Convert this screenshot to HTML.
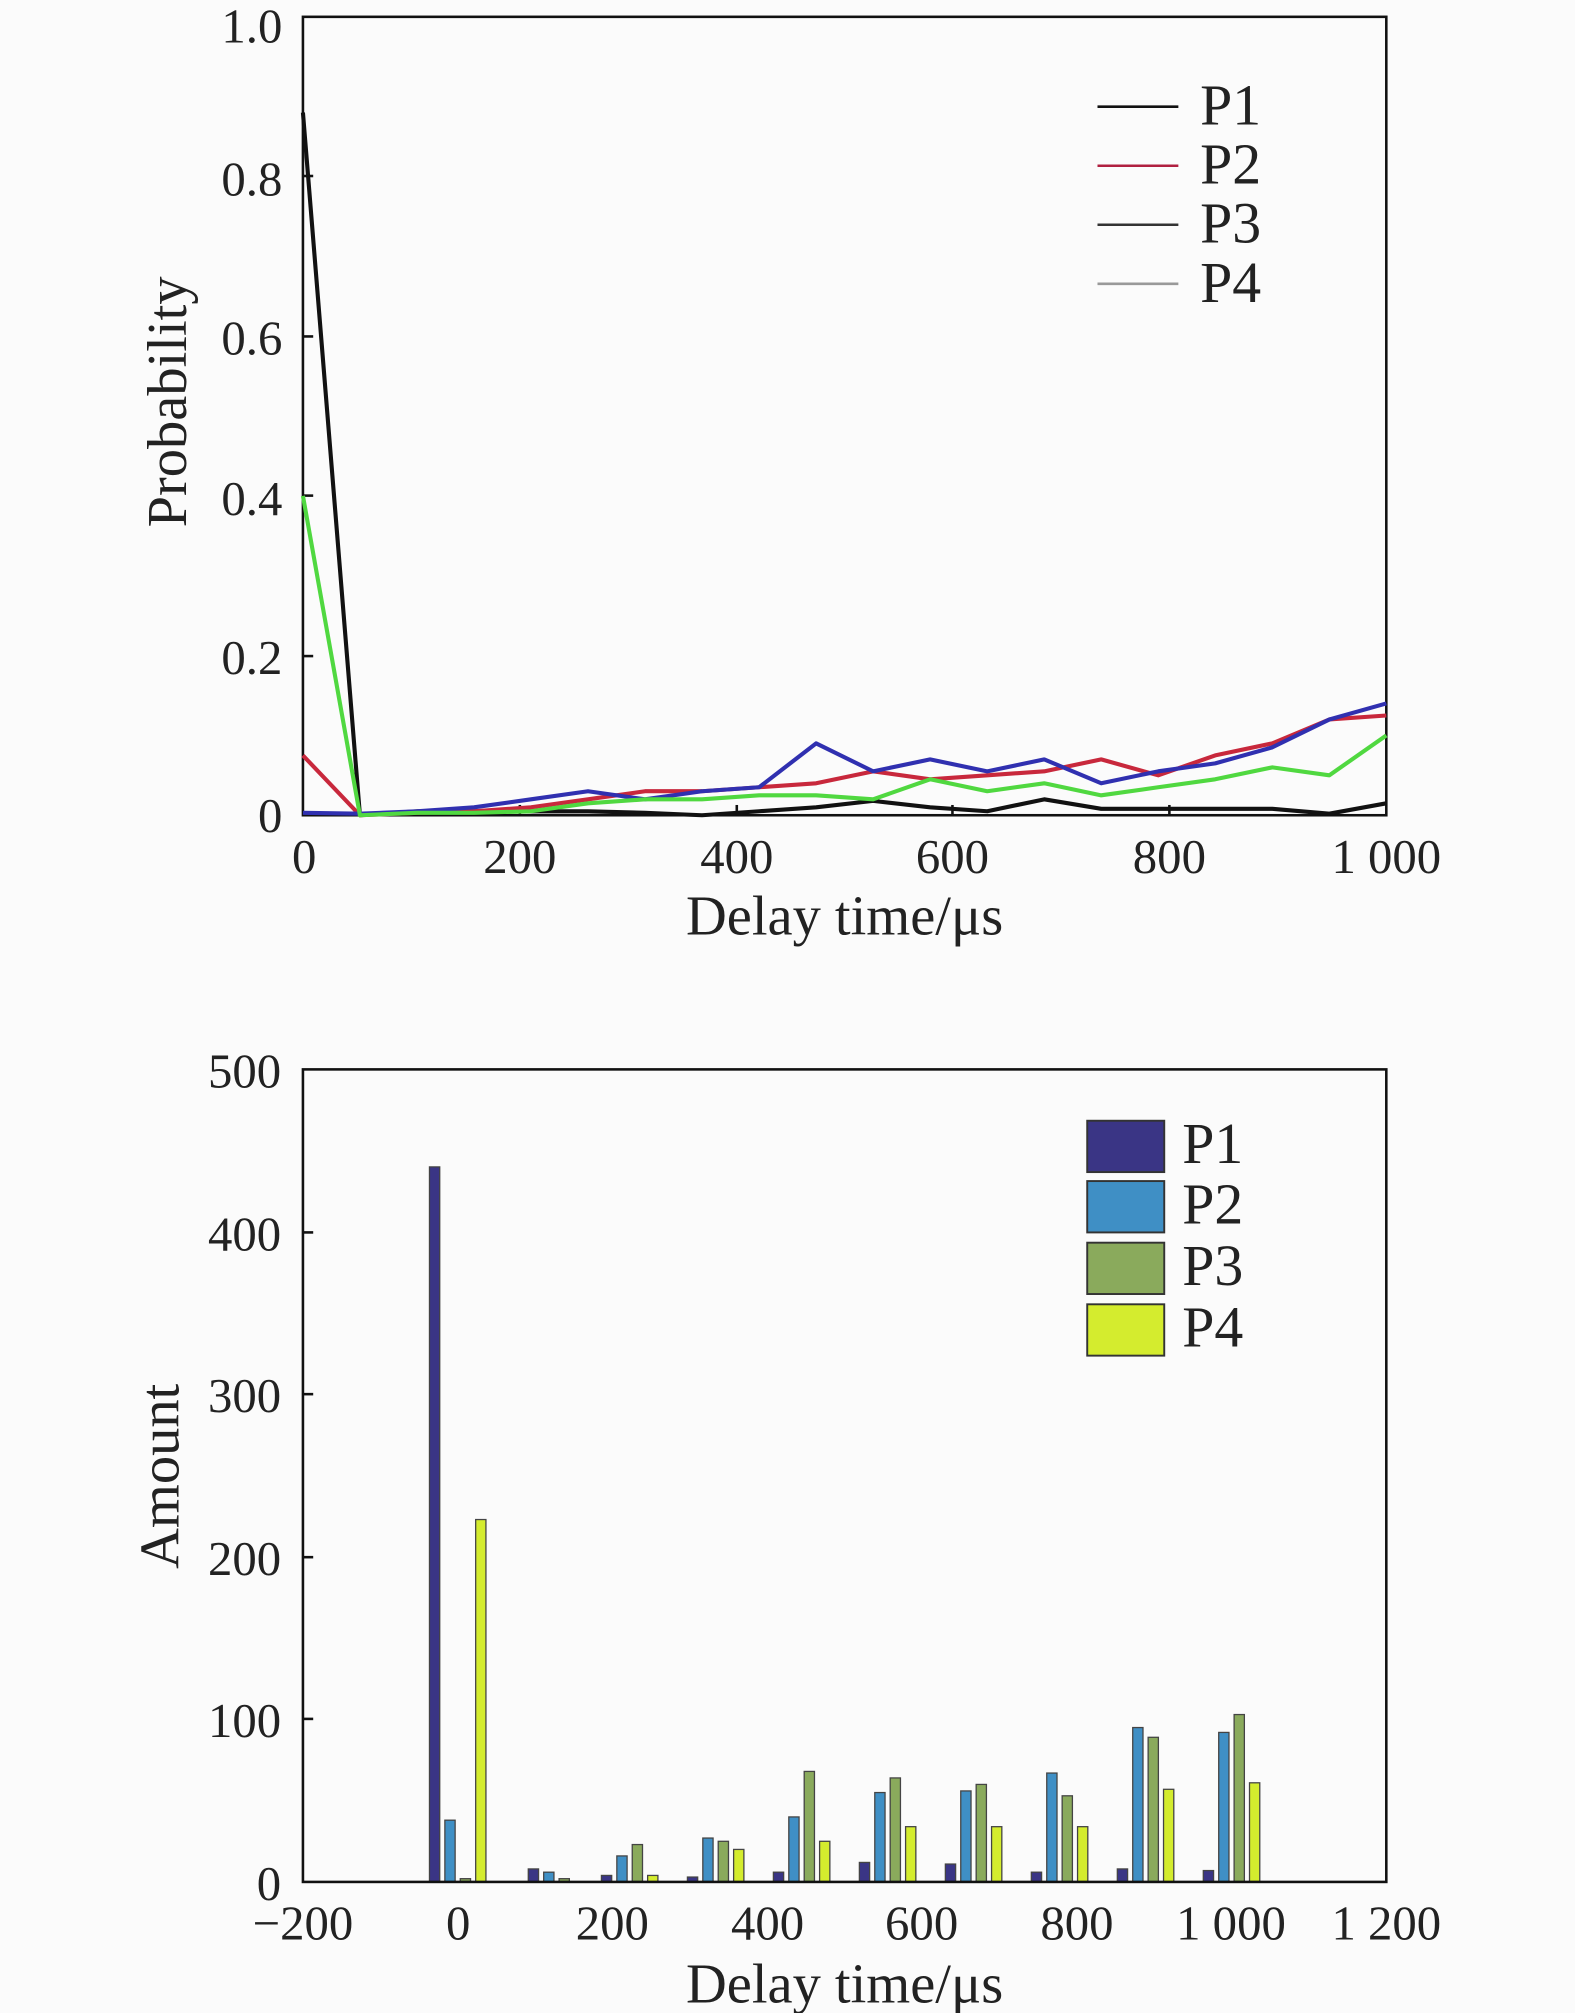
<!DOCTYPE html>
<html><head><meta charset="utf-8"><style>
html,body{margin:0;padding:0;background:#fbfbfb;}
svg{display:block;}
text{font-family:"Liberation Serif",serif;fill:#222;}
</style></head><body>
<svg width="1575" height="2013" viewBox="0 0 1227 1568" xmlns="http://www.w3.org/2000/svg">
<rect width="1227" height="1568" fill="#fbfbfb"/>
<rect x="236" y="13" width="844" height="622" fill="none" stroke="#111" stroke-width="2"/>
<g font-size="38" text-anchor="end">
<text x="220" y="648">0</text><text x="220" y="525">0.2</text><text x="220" y="401">0.4</text><text x="220" y="276">0.6</text><text x="220" y="152">0.8</text><text x="220" y="33">1.0</text>
</g>
<g stroke="#111" stroke-width="2">
<line x1="236" y1="511" x2="244" y2="511"/><line x1="236" y1="386" x2="244" y2="386"/><line x1="236" y1="262" x2="244" y2="262"/><line x1="236" y1="137" x2="244" y2="137"/>
<line x1="405" y1="635" x2="405" y2="627"/><line x1="574" y1="635" x2="574" y2="627"/><line x1="742" y1="635" x2="742" y2="627"/><line x1="911" y1="635" x2="911" y2="627"/>
</g>
<g font-size="38" text-anchor="middle">
<text x="237" y="680">0</text><text x="405" y="680">200</text><text x="574" y="680">400</text><text x="742" y="680">600</text><text x="911" y="680">800</text><text x="1080" y="680">1 000</text>
</g>
<g font-size="44" text-anchor="middle">
<text x="658" y="728">Delay time/μs</text>
<text transform="translate(145,313) rotate(-90)">Probability</text>
</g>
<g fill="none" stroke-width="3.2" stroke-linejoin="round" id="lines"></g>
<g stroke-width="2">
<line x1="855" y1="83" x2="918" y2="83" stroke="#111"/>
<line x1="855" y1="129" x2="918" y2="129" stroke="#b02040"/>
<line x1="855" y1="175" x2="918" y2="175" stroke="#333"/>
<line x1="855" y1="221" x2="918" y2="221" stroke="#999"/>
</g>
<g font-size="45">
<text x="935" y="97">P1</text><text x="935" y="143">P2</text><text x="935" y="189">P3</text><text x="935" y="235">P4</text>
</g>
<g id="bars"></g>
<rect x="236" y="833" width="844" height="633" fill="none" stroke="#111" stroke-width="2"/>
<g stroke="#111" stroke-width="2">
<line x1="236" y1="1339" x2="244" y2="1339"/><line x1="236" y1="1213" x2="244" y2="1213"/><line x1="236" y1="1086" x2="244" y2="1086"/><line x1="236" y1="960" x2="244" y2="960"/>
</g>
<g font-size="38" text-anchor="end">
<text x="219" y="1480">0</text><text x="219" y="1353">100</text><text x="219" y="1227">200</text><text x="219" y="1100">300</text><text x="219" y="974">400</text><text x="219" y="847">500</text>
</g>
<g font-size="38" text-anchor="middle">
<text x="236" y="1511">−200</text><text x="357" y="1511">0</text><text x="477" y="1511">200</text><text x="598" y="1511">400</text><text x="718" y="1511">600</text><text x="839" y="1511">800</text><text x="959" y="1511">1 000</text><text x="1080" y="1511">1 200</text>
</g>
<g font-size="44" text-anchor="middle">
<text x="658" y="1560">Delay time/μs</text>
<text transform="translate(139,1150) rotate(-90)">Amount</text>
</g>
<g stroke="#333" stroke-width="1.5">
<rect x="847" y="873" width="60" height="40" fill="#3a3585"/>
<rect x="847" y="920" width="60" height="40" fill="#3f8fc5"/>
<rect x="847" y="968" width="60" height="40" fill="#8aaa5c"/>
<rect x="847" y="1016" width="60" height="40" fill="#d4ec2e"/>
</g>
<g font-size="45">
<text x="921" y="906">P1</text><text x="921" y="953">P2</text><text x="921" y="1001">P3</text><text x="921" y="1049">P4</text>
</g>
<script>
var ns="http://www.w3.org/2000/svg";
var S=[["#111",[0.88,0,0.005,0.005,0.005,0.005,0.003,0,0.005,0.01,0.018,0.01,0.005,0.02,0.008,0.008,0.008,0.008,0.002,0.015]],
["#c8283c",[0.075,0,0.003,0.005,0.01,0.02,0.03,0.03,0.035,0.04,0.055,0.045,0.05,0.055,0.07,0.05,0.075,0.09,0.12,0.125]],
["#3030b0",[0.003,0.002,0.005,0.01,0.02,0.03,0.02,0.03,0.035,0.09,0.055,0.07,0.055,0.07,0.04,0.055,0.065,0.085,0.12,0.14]],
["#50d840",[0.4,0,0.003,0.003,0.005,0.015,0.02,0.02,0.025,0.025,0.02,0.045,0.03,0.04,0.025,0.035,0.045,0.06,0.05,0.1]]];
var g=document.getElementById("lines");
S.forEach(function(s){var p="";s[1].forEach(function(v,i){var x=236+(i*1000/19)*0.844,y=635-v*622;p+=(i?"L":"M")+x.toFixed(1)+" "+y.toFixed(1);});
var e=document.createElementNS(ns,"path");e.setAttribute("d",p);e.setAttribute("stroke",s[0]);g.appendChild(e);});
var B=[[440,38,2,223],[8,6,2,0],[4,16,23,4],[3,27,25,20],[6,40,68,25],[12,55,64,34],[11,56,60,34],[6,67,53,34],[8,95,89,57],[7,92,103,61]];
var C=["#3a3585","#3f8fc5","#8aaa5c","#d4ec2e"];
var gb=document.getElementById("bars");
B.forEach(function(gr,i){var cx=236+(i*1000/9+200)/1400*844;if(i==1)cx+=10;gr.forEach(function(v,j){if(v<=0)return;var x=cx-18+j*12-4,h=v*1.266;
var r=document.createElementNS(ns,"rect");r.setAttribute("x",x);r.setAttribute("y",1466-h);r.setAttribute("width",8);r.setAttribute("height",h);r.setAttribute("fill",C[j]);r.setAttribute("stroke","#444");r.setAttribute("stroke-width","1");gb.appendChild(r);});});
</script>
</svg>
</body></html>
